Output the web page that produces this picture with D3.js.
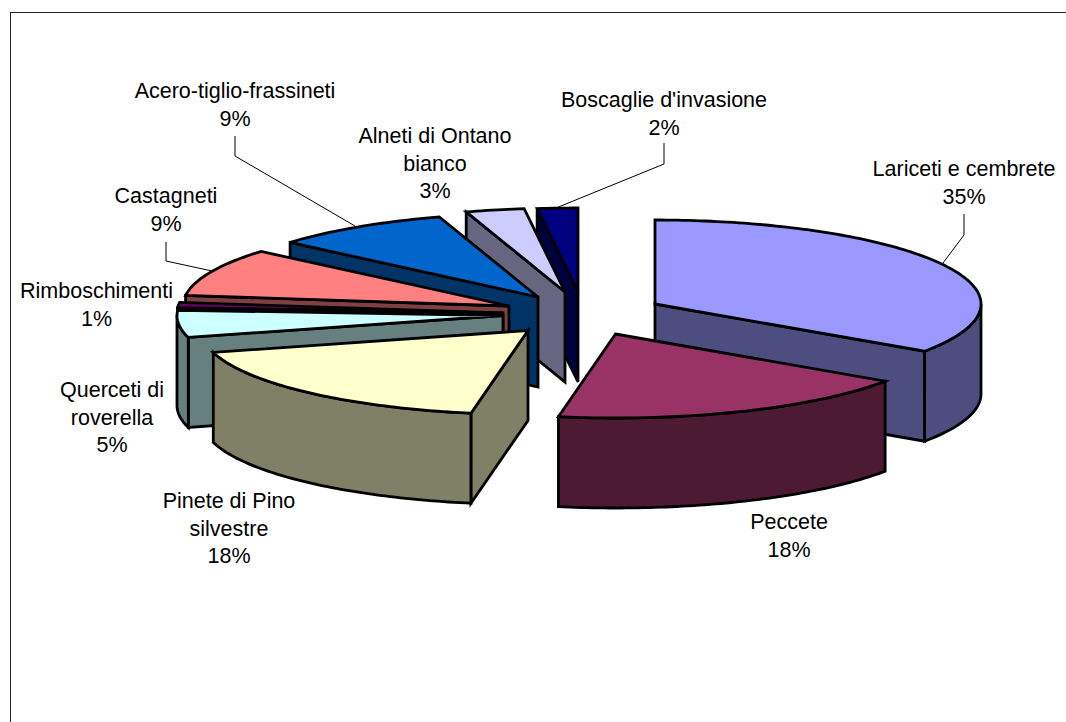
<!DOCTYPE html>
<html>
<head>
<meta charset="utf-8">
<script src="https://cdnjs.cloudflare.com/ajax/libs/d3/7.8.5/d3.min.js"></script>
<style>
html,body{margin:0;padding:0;background:#fff;overflow:hidden}
svg{display:block}
text{font-family:"Liberation Sans",Arial,sans-serif;font-size:21.5px;fill:#000}
</style>
</head>
<body>
<svg id="chart" width="1066" height="722"></svg>
<script>
// Data (estimated shares; labels show them rounded)
const categories = ["Lariceti e cembrete","Peccete","Pinete di Pino silvestre","Querceti di roverella","Rimboschimenti","Castagneti","Acero-tiglio-frassineti","Alneti di Ontano bianco","Boscaglie d'invasione"];
const values = [34.5,18.3,18.0,5.2,1,9.25,8.85,2.9,2];

// Styles
const topColors = ["#9999FF","#993366","#FFFFCC","#CCFFFF","#660066","#FF8080","#0066CC","#CCCCFF","#000080"];
const sideColors = ["#4D4D80","#4D1A33","#808066","#668080","#330033","#804040","#003366","#666680","#000040"];

// Layout
const rx = 326, ry = 84, depth = 90;
const apexes = [[655,304],[615.5,334],[528,330.5],[503,315.5],[503,313],[509,306],[538,297],[565,292],[578,292]];
const labelLines = [["Lariceti e cembrete"],["Peccete"],["Pinete di Pino","silvestre"],["Querceti di","roverella"],["Rimboschimenti"],["Castagneti"],["Acero-tiglio-frassineti"],["Alneti di Ontano","bianco"],["Boscaglie d'invasione"]];
const labelPos = [[964,176],[789,529],[229,508],[112,397],[96.5,298],[166,203],[235,98],[435,143],[664,107]];
const leaders = [
  [[964,214],[964,235],[943,263]],
  [[235,136],[235,156],[355,226]],
  [[166,242],[166,261],[212,271]],
  [[664,143],[664,164],[556,208]]
];

const svg = d3.select("#chart");
svg.append("rect").attr("x",10.5).attr("y",12.5).attr("width",1300).attr("height",1000)
  .attr("fill","#fff").attr("stroke","#222").attr("stroke-width",1);

const arcs = d3.pie().sort(null).value(d=>d)(values);
const line = d3.line();
const pt = (apex,a,dy=0)=>[apex[0]+rx*Math.sin(a), apex[1]-ry*Math.cos(a)+dy];
const samples = (a0,a1)=>{
  const n = Math.max(2,Math.ceil(Math.abs(a1-a0)/(Math.PI/180)));
  return d3.range(n+1).map(i=>a0+(a1-a0)*i/n);
};

const order = arcs.map((d,i)=>({d,i,mid:(d.startAngle+d.endAngle)/2}))
  .sort((p,q)=>Math.cos(q.mid)-Math.cos(p.mid));

const faces = svg.append("g").attr("stroke","#000").attr("stroke-width",2.8).attr("stroke-linejoin","miter");
order.forEach(({d,i})=>{
  const apex = apexes[i], g = faces.append("g");
  const a0 = d.startAngle, a1 = d.endAngle;
  const face = a=>line([apex,pt(apex,a),pt(apex,a,depth),[apex[0],apex[1]+depth]])+"Z";
  if (Math.sin(a0) < -1e-6) g.append("path").attr("d",face(a0)).attr("fill",sideColors[i]);
  if (Math.sin(a1) > 1e-6) g.append("path").attr("d",face(a1)).attr("fill",sideColors[i]);
  const w0 = Math.max(a0,Math.PI/2), w1 = Math.min(a1,Math.PI*1.5);
  if (w1 > w0) {
    const s = samples(w0,w1);
    const wall = s.map(a=>pt(apex,a)).concat(s.slice().reverse().map(a=>pt(apex,a,depth)));
    g.append("path").attr("d",line(wall)+"Z").attr("fill",sideColors[i]);
  }
  const top = [apex].concat(samples(a0,a1).map(a=>pt(apex,a)));
  g.append("path").attr("d",line(top)+"Z").attr("fill",topColors[i]);
});

svg.append("g").selectAll("path").data(leaders).join("path")
  .attr("d",d=>line(d)).attr("fill","none").attr("stroke","#000").attr("stroke-width",1);

const lh = 27.5;
categories.forEach((c,i)=>{
  const t = svg.append("text").attr("text-anchor","middle");
  labelLines[i].concat([Math.round(values[i])+"%"]).forEach((s,k)=>{
    t.append("tspan").attr("x",labelPos[i][0]).attr("y",labelPos[i][1]+k*lh).text(s);
  });
});
</script>
</body>
</html>
